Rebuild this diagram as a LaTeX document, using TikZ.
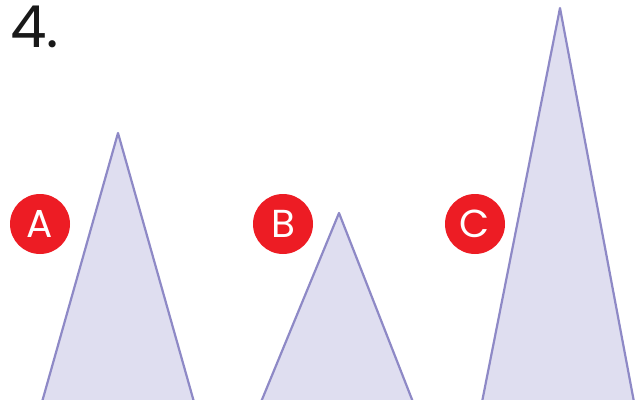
\documentclass[tikz,border=0pt]{standalone}
\usepackage{fontspec}
\setmainfont{Poppins}
\usepackage{tikz}

\definecolor{markred}{HTML}{ED1C24}
\definecolor{trifill}{HTML}{DFDEF0}
\definecolor{triline}{HTML}{8E89C6}

\tikzset{
    tri/.style={fill=trifill, draw=triline, line width=2.2pt, line join=round},
    badge/.style={circle, fill=markred, text=white, minimum size=60pt, inner sep=0pt,
        font=\fontsize{39}{39}\selectfont}
}

\begin{document}
\begin{tikzpicture}[x=1pt, y=-1pt]
        \useasboundingbox (0,0) rectangle (639,399);

        % Number
        \node[anchor=north west, inner sep=0pt, text=black!90,
            font=\fontsize{58}{58}\selectfont] (num) at (10,6) {4.};

        % Triangle A
        \draw[tri] (42,402) -- (118,133) -- (194,402);
        \node[badge] (a) at (40,224) {A};

        % Triangle B
        \draw[tri] (261,402) -- (339,213) -- (413,402);
        \node[badge] (b) at (283,224) {B};

        % Triangle C
        \draw[tri] (482,402) -- (560,8) -- (634,402);
        \node[badge] (c) at (475,224) {C};

        \end{tikzpicture}
\end{document}
